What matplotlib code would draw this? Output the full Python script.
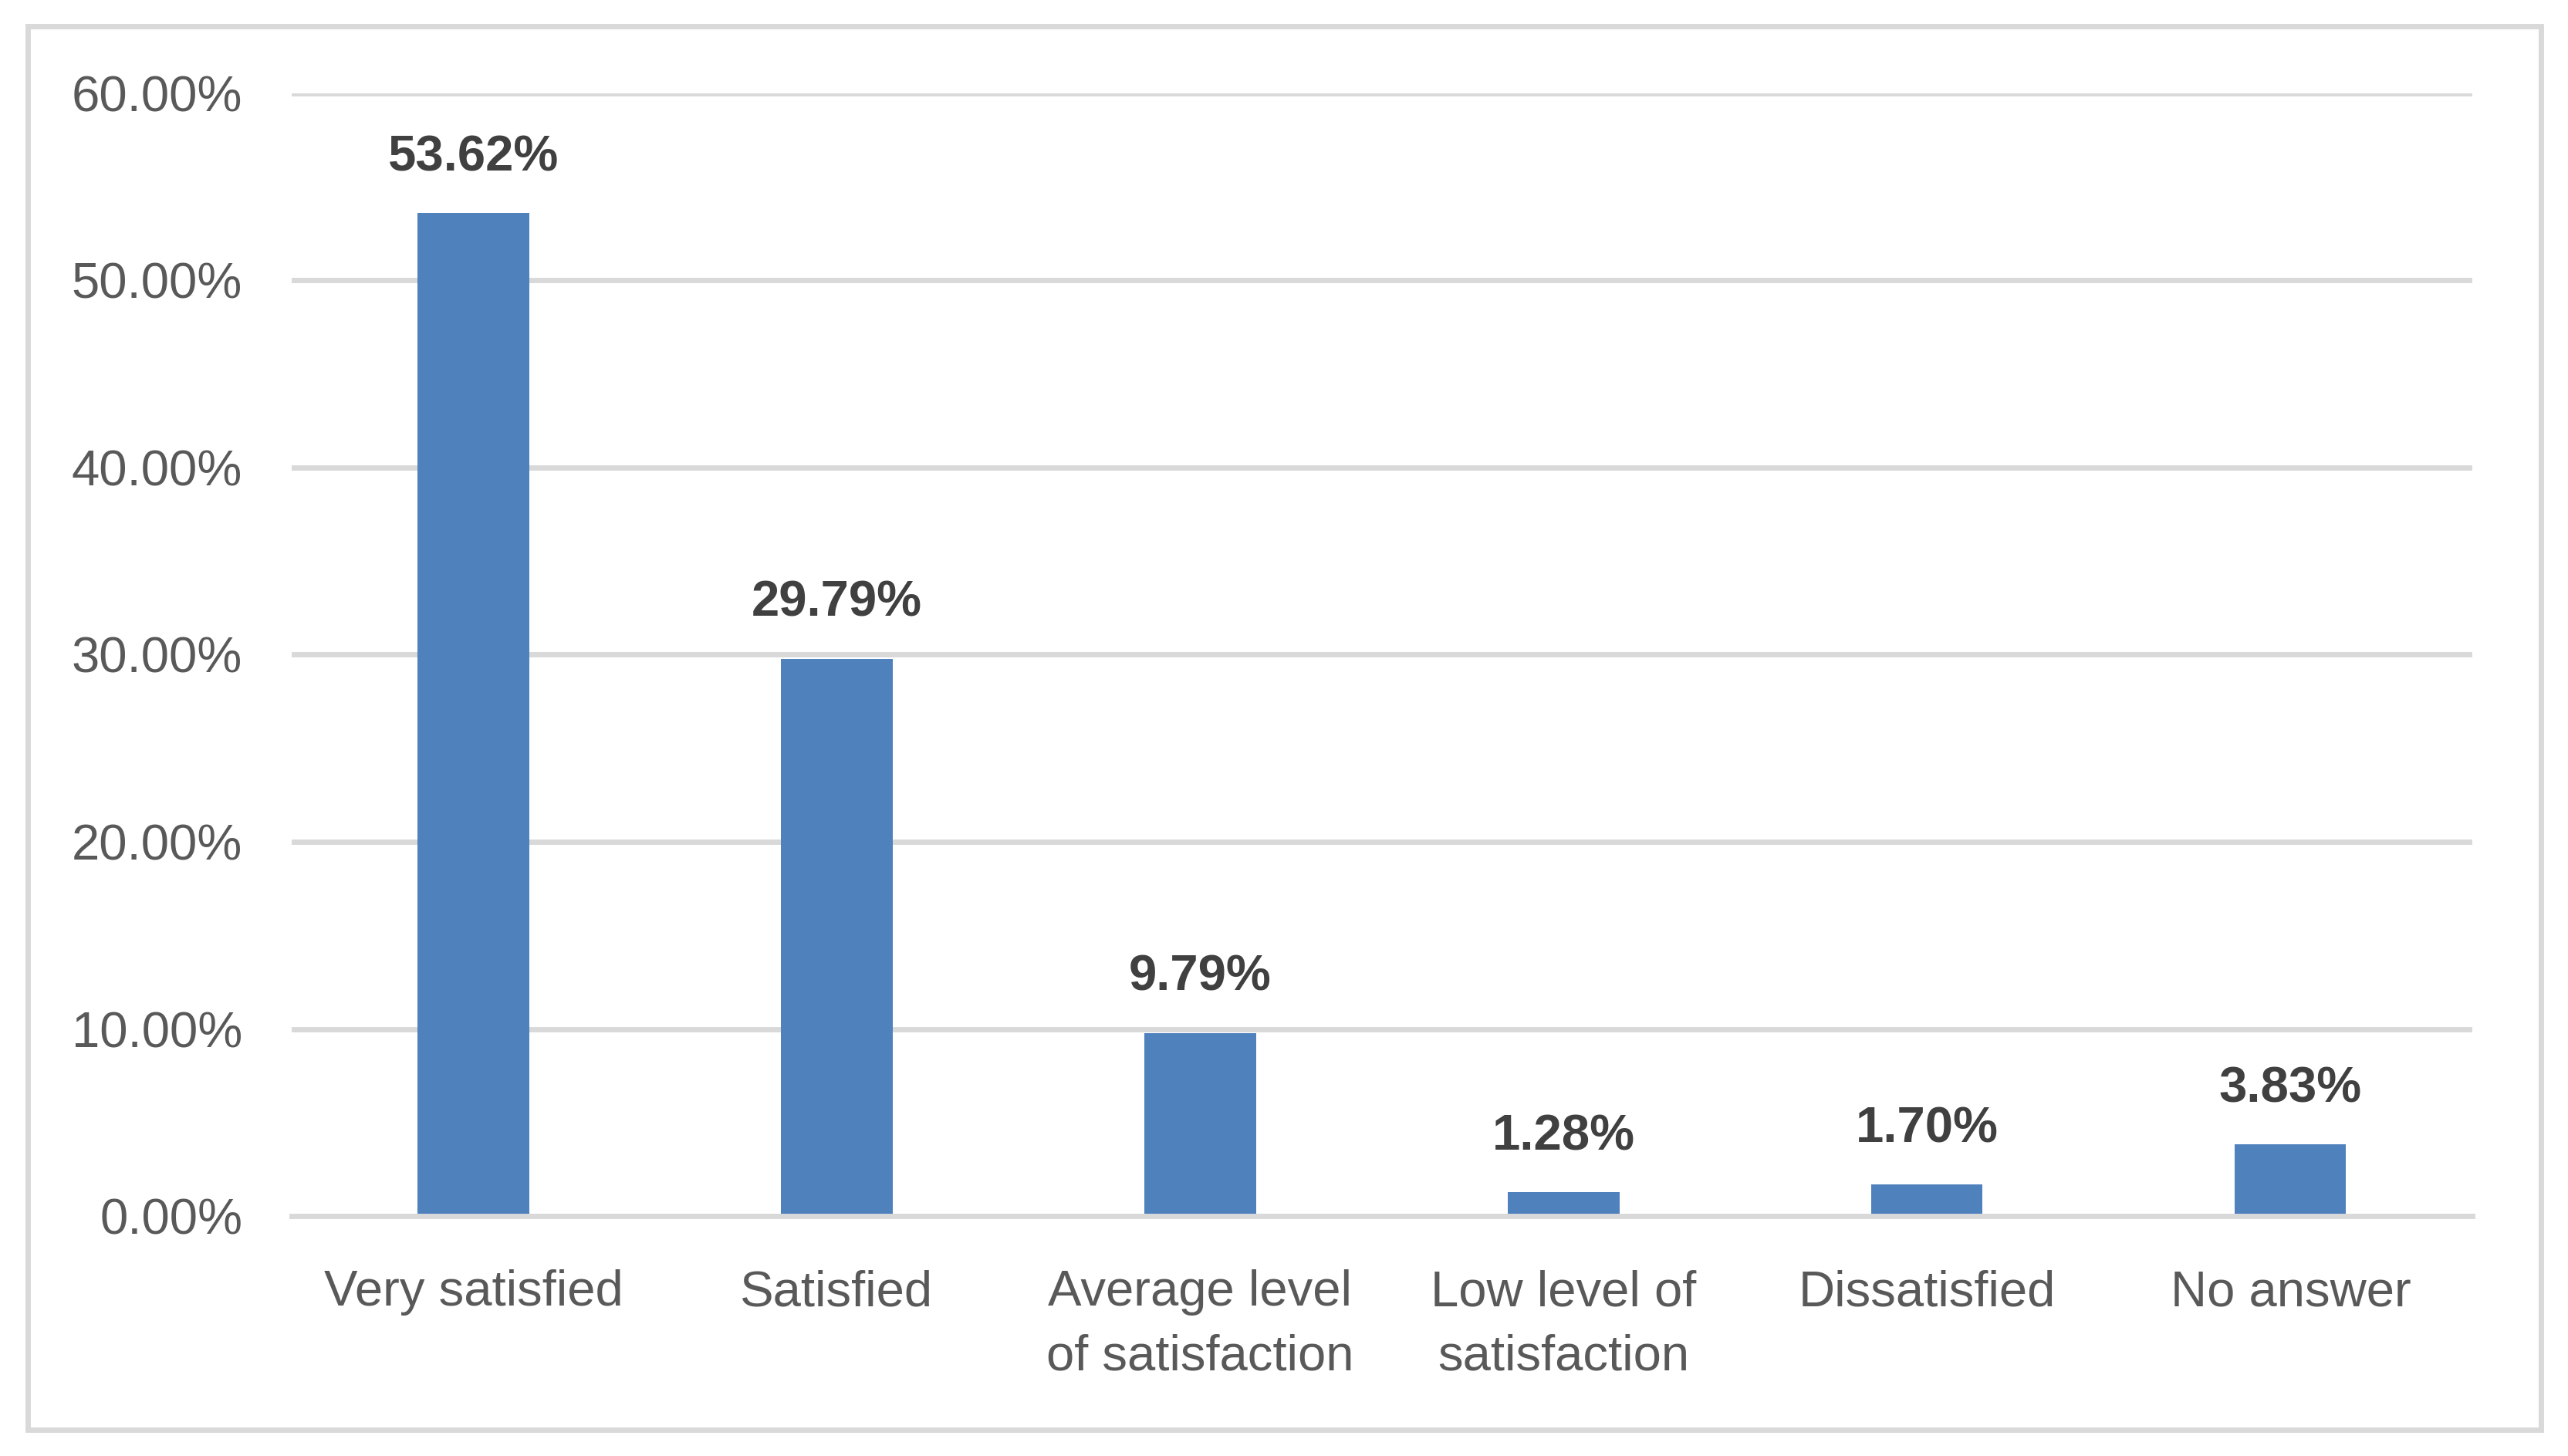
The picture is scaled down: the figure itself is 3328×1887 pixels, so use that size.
import matplotlib.pyplot as plt
from matplotlib.patches import Rectangle
from matplotlib.ticker import FuncFormatter

# Survey answers and their shares (%)
categories = ["Very satisfied", "Satisfied", "Average level\nof satisfaction",
              "Low level of\nsatisfaction", "Dissatisfied", "No answer"]
shares = [53.62, 29.79, 9.79, 1.28, 1.70, 3.83]
y_ticks = [0, 10, 20, 30, 40, 50, 60]

plt.rcParams['font.family'] = ['Liberation Sans', 'DejaVu Sans']

bar_color = '#4f81bd'
grid_color = '#d9d9d9'
text_color = '#595959'
label_color = '#404040'

fig = plt.figure(figsize=(33.28, 18.87), dpi=100)
ax = fig.add_axes([0.1136, 0.1648, 0.8491, 0.7711])

x = range(len(categories))
bars = ax.bar(x, shares, width=0.306, color=bar_color, zorder=3)

ax.set_ylim(0, 60)
ax.set_xlim(-0.5, len(categories) - 0.5)
ax.set_yticks(y_ticks)
ax.yaxis.set_major_formatter(FuncFormatter(lambda v, p: f"{v:.2f}%"))
ax.set_xticks(list(x))
ax.set_xticklabels(categories, linespacing=1.5)

ax.tick_params(axis='y', length=0, pad=46, labelsize=47, labelcolor=text_color)
ax.tick_params(axis='x', length=0, pad=50, labelsize=47, labelcolor=text_color)

ax.grid(axis='y', color=grid_color, linewidth=5, zorder=0)
for s in ['top', 'right', 'left']:
    ax.spines[s].set_visible(False)
ax.spines['bottom'].set_color(grid_color)
ax.spines['bottom'].set_linewidth(5)
ax.spines['bottom'].set_zorder(4)

ax.bar_label(bars, labels=[f"{v:.2f}%" for v in shares], padding=30,
             fontsize=47, fontweight='bold', color=label_color)

# outer chart border
fig.patches.append(Rectangle((0.0108, 0.018), 0.9787, 0.964, transform=fig.transFigure,
                             fill=False, edgecolor=grid_color, linewidth=5))

fig.savefig('out.png', dpi=100, facecolor='white')
